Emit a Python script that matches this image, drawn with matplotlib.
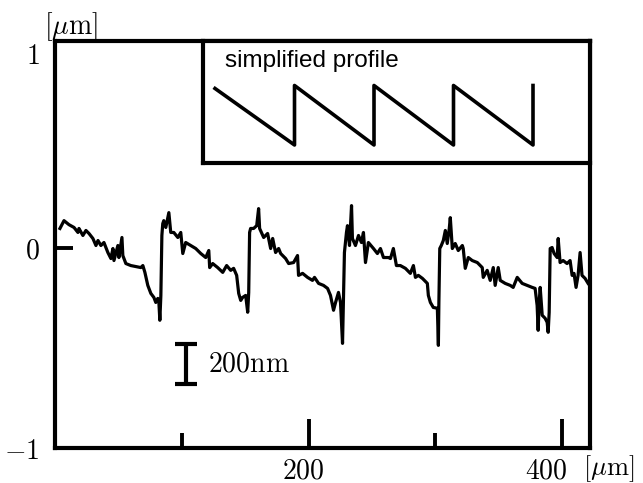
import matplotlib
matplotlib.use('Agg')
import matplotlib.pyplot as plt
import matplotlib.transforms as mtransforms

plt.rcParams['mathtext.fontset'] = 'cm'

# measured profile, x in um, height in um
pos = [3.9, 7.1, 11.0, 15.0, 18.1, 18.9, 22.0, 24.4, 26.8, 29.9, 32.3, 33.9, 36.2, 38.6,
       41.7, 44.1, 45.7, 46.5, 49.6, 50.4, 52.8, 53.5, 55.9, 59.8, 63.8, 67.7, 69.3, 70.9,
       73.2, 75.6, 78.0, 79.5, 81.1, 81.9, 82.7, 83.5, 84.3, 85.0, 85.8, 87.4, 89.8, 91.3,
       93.7, 96.9, 99.2, 100.8, 103.1, 107.1, 111.0, 115.0, 118.9, 121.3, 122.0, 124.4,
       128.3, 132.3, 135.4, 138.6, 140.9, 143.3, 144.9, 146.5, 148.0, 150.4, 152.0, 152.8,
       153.5, 154.3, 156.7, 159.1, 160.6, 161.4, 164.6, 167.7, 170.1, 171.7, 174.0, 176.4,
       178.0, 181.9, 184.3, 188.2, 191.3, 192.1, 195.3, 199.2, 203.1, 204.7, 207.9, 211.8,
       215.0, 217.3, 219.7, 221.3, 223.6, 225.2, 226.8, 227.6, 228.3, 229.9, 230.7, 232.3,
       233.9, 234.6, 237.0, 239.4, 241.7, 243.3, 244.9, 247.2, 251.2, 254.3, 256.7, 259.1,
       263.0, 264.6, 266.9, 269.3, 272.4, 276.4, 280.3, 282.7, 284.3, 286.6, 289.8, 293.7,
       294.5, 296.1, 298.4, 301.6, 302.4, 302.8, 303.5, 304.7, 306.3, 307.9, 309.4, 311.0,
       311.8, 313.4, 315.7, 318.1, 321.3, 322.0, 323.6, 326.0, 329.1, 333.1, 337.0, 337.8,
       340.9, 343.3, 345.7, 347.2, 349.6, 351.2, 355.1, 359.1, 361.4, 364.6, 368.5, 372.4,
       376.4, 378.7, 380.3, 381.1, 381.9, 382.7, 384.3, 386.6, 388.2, 389.0, 389.8, 390.6,
       392.1, 393.7, 396.1, 396.9, 398.4, 400.8, 403.9, 406.3, 407.9, 409.4, 411.0, 412.6,
       414.2, 415.7, 418.1, 420.5]
height = [0.095, 0.134, 0.114, 0.100, 0.075, 0.095, 0.060, 0.085, 0.070, 0.045, 0.010, 0.035,
          0.010, 0.025, -0.025, -0.055, -0.005, -0.065, 0.010, -0.050, 0.050, -0.040, -0.080,
          -0.090, -0.095, -0.100, -0.090, -0.124, -0.189, -0.229, -0.249, -0.274, -0.254,
          -0.269, -0.363, -0.239, 0.060, 0.119, 0.134, 0.100, 0.174, 0.075, 0.075, 0.050,
          0.075, -0.030, 0.025, 0.010, -0.005, -0.030, -0.050, -0.015, -0.100, -0.080, -0.100,
          -0.124, -0.090, -0.114, -0.104, -0.139, -0.229, -0.264, -0.249, -0.239, -0.323,
          -0.224, 0.075, 0.095, 0.095, 0.109, 0.194, 0.095, 0.050, 0.070, -0.005, 0.045,
          -0.025, -0.005, -0.030, -0.055, -0.080, -0.075, -0.040, -0.139, -0.129, -0.149,
          -0.164, -0.149, -0.179, -0.189, -0.204, -0.239, -0.313, -0.274, -0.224, -0.274,
          -0.478, -0.224, -0.025, 0.075, 0.109, 0.010, 0.209, 0.045, 0.010, 0.060, 0.025,
          0.075, -0.075, 0.025, -0.005, -0.030, -0.005, -0.050, -0.050, -0.055, -0.005,
          -0.090, -0.090, -0.104, -0.129, -0.090, -0.149, -0.139, -0.154, -0.179, -0.239,
          -0.274, -0.299, -0.303, -0.488, -0.274, -0.005, 0.010, 0.035, 0.085, 0.020, 0.095,
          0.149, -0.005, 0.020, -0.015, 0.010, -0.005, -0.104, -0.050, -0.065, -0.075, -0.100,
          -0.149, -0.114, -0.164, -0.100, -0.189, -0.100, -0.164, -0.179, -0.189, -0.199,
          -0.149, -0.179, -0.189, -0.199, -0.204, -0.289, -0.413, -0.274, -0.199, -0.338,
          -0.353, -0.373, -0.423, -0.323, -0.005, 0.000, -0.030, -0.050, 0.045, -0.075,
          -0.065, -0.080, -0.065, -0.139, -0.129, -0.199, -0.139, -0.025, -0.139, -0.154,
          -0.179]

# simplified sawtooth
saw_x = [0, 1, 1, 2, 2, 3, 3, 4, 4]
saw_y = [0.95, 0, 1, 0, 1, 0, 1, 0, 1]

xmajor = [200, 400]
xminor = [100, 300]
yticks = [-1, 0, 1]
scalebar_x = 103
scalebar_mid = -0.58
scalebar_half = 0.1

fig = plt.figure(figsize=(6.43, 4.83), dpi=100)
ax = fig.add_axes([55/643, 1-448/483, 535/643, 407/483])
ax.plot(pos, height, color='black', lw=2.3)
ax.set_xlim(0, 422)
ax.set_ylim(-1, 1.03)

for s in ax.spines.values():
    s.set_linewidth(3)

ax.set_xticks(xmajor)
ax.set_xticklabels([r'$%d$' % v for v in xmajor])
ax.set_xticks(xminor, minor=True)
ax.tick_params(axis='x', which='major', direction='in', length=21, width=2.8, pad=6,
               labelsize=20)
ax.tick_params(axis='x', which='minor', direction='in', length=11, width=2.8)
ax.set_yticks(yticks)
ax.set_yticklabels([r'$-1$', r'$0$', r'$1$'])
ax.tick_params(axis='y', direction='in', length=13, width=2.8, pad=11, labelsize=20)
ticks = ax.yaxis.get_major_ticks()
ticks[0].tick1line.set_visible(False)
ticks[2].tick1line.set_visible(False)
ticks[2].label1.set_transform(ticks[2].label1.get_transform() +
                              mtransforms.ScaledTranslation(0, -6/100, fig.dpi_scale_trans))

labs = ax.get_xticklabels()
for lab, dx in zip(labs, [-5, -16]):
    lab.set_transform(lab.get_transform() +
                      mtransforms.ScaledTranslation(dx/100, 0, fig.dpi_scale_trans))

ax.text(0.03, 1.035, r'$[\mu\mathrm{m}]$', transform=ax.transAxes, ha='center',
        va='center', fontsize=20)
fig.text(634/643, 1-469/483, r'$[\mu\mathrm{m}]$', ha='right', va='center', fontsize=19)

# 200 nm scale bar
ax.errorbar(scalebar_x, scalebar_mid, yerr=scalebar_half, color='black', elinewidth=3,
            capsize=8, capthick=3)
ax.text(120.5, scalebar_mid, r'$200\mathrm{nm}$', fontsize=20, va='center', ha='left')

# inset
ins = fig.add_axes([203/643, 1-163/483, 387/643, 122/483])
ins.plot(saw_x, saw_y, color='black', lw=2.6)
ins.set_xlim(-0.151, 4.717)
ins.set_ylim(-0.303, 1.748)
ins.set_xticks([])
ins.set_yticks([])
for s in ins.spines.values():
    s.set_linewidth(3)
ins.text(0.057, 0.787, 'simplified profile', transform=ins.transAxes,
         fontsize=17.5, family='Liberation Sans', va='baseline')

fig.savefig('out.png', dpi=100)
